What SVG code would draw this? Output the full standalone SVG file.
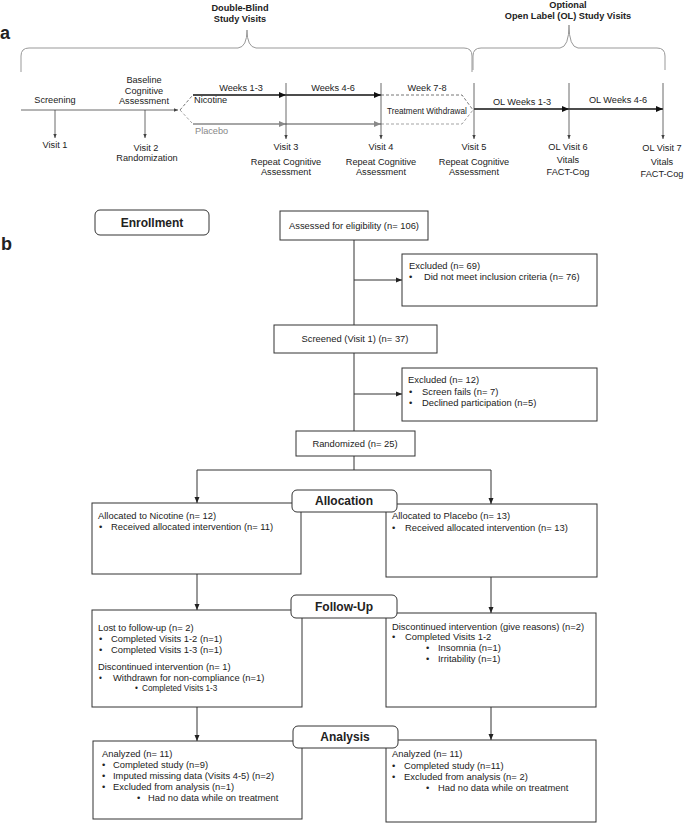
<svg xmlns="http://www.w3.org/2000/svg" width="685" height="824" viewBox="0 0 685 824">
<style>
text{font-family:"Liberation Sans",Arial,sans-serif;fill:#222}
.a{font-size:9.2px;text-anchor:middle}
.s{font-size:9.2px}
.tt{font-size:9.2px;font-weight:bold;text-anchor:middle}
.lbl{font-size:18px;font-weight:bold}
.f{font-size:9.4px}
.fc{font-size:9.4px;text-anchor:middle}
.sm{font-size:8.2px}
.h{font-size:12px;font-weight:bold;text-anchor:middle}
.gray{fill:#888}
.box{fill:#fff;stroke:#333;stroke-width:1}
.rbox{fill:#fff;stroke:#333;stroke-width:1}
.ln{fill:none;stroke:#333;stroke-width:1}
.tick{fill:none;stroke:#444;stroke-width:0.8}
.brace{fill:none;stroke:#999;stroke-width:1}
.nic{fill:none;stroke:#111;stroke-width:1.5}
.pla{fill:none;stroke:#888;stroke-width:1.3}
.dk{fill:none;stroke:#666;stroke-width:0.9;stroke-dasharray:3,2}
.dg{fill:none;stroke:#999;stroke-width:0.9;stroke-dasharray:3,2}
</style>
<defs>
<marker id="ah" markerWidth="6" markerHeight="6" refX="6" refY="3" orient="auto" markerUnits="userSpaceOnUse"><path d="M0,0.5 L6,3 L0,5.5z" fill="#222"/></marker>
<marker id="at" markerWidth="4" markerHeight="4" refX="4" refY="2" orient="auto" markerUnits="userSpaceOnUse"><path d="M0,0.3 L4,2 L0,3.7z" fill="#444"/></marker>
<marker id="an" markerWidth="7" markerHeight="7" refX="7" refY="3.5" orient="auto" markerUnits="userSpaceOnUse"><path d="M0,0.5 L7,3.5 L0,6.5z" fill="#111"/></marker>
<marker id="ag" markerWidth="7" markerHeight="7" refX="7" refY="3.5" orient="auto" markerUnits="userSpaceOnUse"><path d="M0,0.5 L7,3.5 L0,6.5z" fill="#888"/></marker>
</defs>

<!-- Panel a -->
<g id="panel-a">
<text x="0" y="39" class="lbl">a</text>
<text x="240" y="11" class="tt">Double-Blind</text>
<text x="240" y="22" class="tt">Study Visits</text>
<text x="568" y="8" class="tt">Optional</text>
<text x="568" y="19" class="tt">Open Label (OL) Study Visits</text>
<path class="brace" d="M21,72 L21,56 Q21,48 29,48 L238,48 Q247,47 247,30 Q247,47 256,48 L464,48 Q472,48 472,56 L472,72"/>
<path class="brace" d="M473,70 L473,56 Q473,48 481,48 L560,48 Q569,47 569,25 Q569,47 578,48 L657,48 Q665,48 665,56 L665,70"/>
</g>

<g id="timeline">
<line class="tick" x1="21" y1="110" x2="178" y2="110" marker-end="url(#at)"/>
<line class="dk" x1="180" y1="110" x2="192" y2="96"/>
<line class="dg" x1="180" y1="110" x2="192" y2="123"/>
<line class="nic" x1="193" y1="95" x2="286" y2="95" marker-end="url(#an)"/>
<line class="nic" x1="286" y1="95" x2="381" y2="95" marker-end="url(#an)"/>
<line class="pla" x1="193" y1="124" x2="286" y2="124" marker-end="url(#ag)"/>
<line class="pla" x1="286" y1="124" x2="381" y2="124" marker-end="url(#ag)"/>
<path class="dk" d="M381,95 L462,95 L473,110"/>
<path class="dg" d="M381,124 L462,124 L473,110"/>
<line class="nic" x1="474" y1="109" x2="569" y2="109" marker-end="url(#an)"/>
<line class="nic" x1="569" y1="109" x2="663" y2="109" marker-end="url(#an)"/>
<line class="tick" x1="55" y1="110" x2="55" y2="138" marker-end="url(#at)"/>
<line class="tick" x1="145" y1="110" x2="145" y2="138" marker-end="url(#at)"/>
<line class="tick" x1="286" y1="83" x2="286" y2="139" marker-end="url(#at)"/>
<line class="tick" x1="381" y1="83" x2="381" y2="139" marker-end="url(#at)"/>
<line class="tick" x1="474" y1="83" x2="474" y2="139" marker-end="url(#at)"/>
<line class="tick" x1="569" y1="83" x2="569" y2="139" marker-end="url(#at)"/>
<line class="tick" x1="663" y1="83" x2="663" y2="139" marker-end="url(#at)"/>
</g>

<g id="timeline-labels">
<text x="55" y="103" class="a">Screening</text>
<text x="55" y="148" class="a">Visit 1</text>
<text x="144" y="83" class="a">Baseline</text>
<text x="144" y="94" class="a">Cognitive</text>
<text x="144" y="104" class="a">Assessment</text>
<text x="146" y="151" class="a">Visit 2</text>
<text x="147" y="161" class="a">Randomization</text>
<text x="194" y="103" class="s">Nicotine</text>
<text x="195" y="134" class="s gray">Placebo</text>
<text x="241" y="91" class="a">Weeks 1-3</text>
<text x="333" y="91" class="a">Weeks 4-6</text>
<text x="427" y="91" class="a">Week 7-8</text>
<text x="387" y="114" class="sm">Treatment Withdrawal</text>
<text x="286" y="150" class="a">Visit 3</text>
<text x="286" y="165" class="a">Repeat Cognitive</text>
<text x="286" y="175" class="a">Assessment</text>
<text x="381" y="150" class="a">Visit 4</text>
<text x="381" y="165" class="a">Repeat Cognitive</text>
<text x="381" y="175" class="a">Assessment</text>
<text x="474" y="150" class="a">Visit 5</text>
<text x="474" y="165" class="a">Repeat Cognitive</text>
<text x="474" y="175" class="a">Assessment</text>
<text x="522" y="105" class="a">OL Weeks 1-3</text>
<text x="618" y="103" class="a">OL Weeks 4-6</text>
<text x="568" y="150" class="a">OL Visit 6</text>
<text x="568" y="163" class="a">Vitals</text>
<text x="568" y="175" class="a">FACT-Cog</text>
<text x="662" y="151" class="a">OL Visit 7</text>
<text x="662" y="165" class="a">Vitals</text>
<text x="662" y="177" class="a">FACT-Cog</text>
</g>

<!-- Panel b -->
<text x="1" y="250" class="lbl">b</text>

<g id="connectors">
<line class="ln" x1="354" y1="240" x2="354" y2="325"/>
<line class="ln" x1="354" y1="280" x2="402" y2="280" marker-end="url(#ah)"/>
<line class="ln" x1="354" y1="353" x2="354" y2="431"/>
<line class="ln" x1="354" y1="394" x2="402" y2="394" marker-end="url(#ah)"/>
<line class="ln" x1="354" y1="456" x2="354" y2="470"/>
<line class="ln" x1="197" y1="470" x2="491" y2="470"/>
<line class="ln" x1="197" y1="470" x2="197" y2="503" marker-end="url(#ah)"/>
<line class="ln" x1="491" y1="470" x2="491" y2="504" marker-end="url(#ah)"/>
<line class="ln" x1="197" y1="574" x2="197" y2="610" marker-end="url(#ah)"/>
<line class="ln" x1="491" y1="577" x2="491" y2="613" marker-end="url(#ah)"/>
<line class="ln" x1="197" y1="707" x2="197" y2="741" marker-end="url(#ah)"/>
<line class="ln" x1="491" y1="707" x2="491" y2="740" marker-end="url(#ah)"/>
</g>

<g id="enrollment">
<rect class="rbox" x="95" y="210" width="114" height="25" rx="5"/>
<text x="152" y="227" class="h">Enrollment</text>
</g>
<g id="assessed">
<rect class="box" x="280" y="211" width="148" height="29"/>
<text x="354" y="229" class="fc">Assessed for eligibility (n= 106)</text>
</g>
<g id="excluded1">
<rect class="box" x="402" y="254" width="195" height="52"/>
<text x="409" y="269" class="f">Excluded (n= 69)</text>
<text x="409" y="280" class="f">•</text>
<text x="424" y="280" class="f">Did not meet inclusion criteria (n= 76)</text>
</g>
<g id="screened">
<rect class="box" x="274" y="325" width="163" height="28"/>
<text x="355" y="342" class="fc">Screened (Visit 1) (n= 37)</text>
</g>
<g id="excluded2">
<rect class="box" x="402" y="368" width="195" height="53"/>
<text x="408" y="383" class="f">Excluded (n= 12)</text>
<text x="409" y="395" class="f">•</text>
<text x="422" y="395" class="f">Screen fails (n= 7)</text>
<text x="409" y="406" class="f">•</text>
<text x="422" y="406" class="f">Declined participation (n=5)</text>
</g>
<g id="randomized">
<rect class="box" x="296" y="431" width="119" height="25"/>
<text x="355" y="447" class="fc">Randomized (n= 25)</text>
</g>

<g id="alloc-nicotine">
<rect class="box" x="92" y="503" width="209" height="71"/>
<text x="98" y="519" class="f">Allocated to Nicotine (n= 12)</text>
<text x="99" y="530" class="f">•</text>
<text x="111" y="530" class="f">Received allocated intervention (n= 11)</text>
</g>
<g id="alloc-placebo">
<rect class="box" x="386" y="504" width="211" height="73"/>
<text x="392" y="519" class="f">Allocated to Placebo (n= 13)</text>
<text x="392" y="531" class="f">•</text>
<text x="405" y="531" class="f">Received allocated intervention (n= 13)</text>
</g>
<g id="allocation">
<rect class="rbox" x="292" y="490" width="105" height="22" rx="5"/>
<text x="344" y="505" class="h">Allocation</text>
</g>

<g id="followup-nicotine">
<rect class="box" x="92" y="610" width="210" height="97"/>
<text x="98" y="631" class="f">Lost to follow-up (n= 2)</text>
<text x="99" y="642" class="f">•</text>
<text x="111" y="642" class="f">Completed Visits 1-2 (n=1)</text>
<text x="99" y="653" class="f">•</text>
<text x="111" y="653" class="f">Completed Visits 1-3 (n=1)</text>
<text x="98" y="670" class="f">Discontinued intervention (n= 1)</text>
<text x="99" y="681" class="sm">•</text>
<text x="113" y="681" class="f">Withdrawn for non-compliance (n=1)</text>
<text x="135" y="691" class="sm">•</text>
<text x="142" y="691" class="sm">Completed Visits 1-3</text>
</g>
<g id="followup-placebo">
<rect class="box" x="386" y="613" width="210" height="94"/>
<text x="392" y="630" class="f">Discontinued intervention (give reasons) (n=2)</text>
<text x="392" y="640" class="f">•</text>
<text x="405" y="640" class="f">Completed Visits 1-2</text>
<text x="426" y="651" class="f">•</text>
<text x="438" y="651" class="f">Insomnia (n=1)</text>
<text x="426" y="662" class="f">•</text>
<text x="438" y="662" class="f">Irritability (n=1)</text>
</g>
<g id="followup">
<rect class="rbox" x="291" y="595" width="106" height="23" rx="5"/>
<text x="344" y="611" class="h">Follow-Up</text>
</g>

<g id="analysis-nicotine">
<rect class="box" x="93" y="741" width="209" height="78"/>
<text x="102" y="757" class="f">Analyzed (n= 11)</text>
<text x="102" y="768" class="f">•</text>
<text x="113" y="768" class="f">Completed study (n=9)</text>
<text x="102" y="779" class="f">•</text>
<text x="113" y="779" class="f">Imputed missing data (Visits 4-5) (n=2)</text>
<text x="102" y="790" class="f">•</text>
<text x="113" y="790" class="f">Excluded from analysis (n=1)</text>
<text x="137" y="801" class="f">•</text>
<text x="148" y="801" class="f">Had no data while on treatment</text>
</g>
<g id="analysis-placebo">
<rect class="box" x="386" y="740" width="210" height="82"/>
<text x="392" y="757" class="f">Analyzed (n= 11)</text>
<text x="392" y="769" class="f">•</text>
<text x="404" y="769" class="f">Completed study (n=11)</text>
<text x="392" y="780" class="f">•</text>
<text x="404" y="780" class="f">Excluded from analysis (n= 2)</text>
<text x="426" y="791" class="f">•</text>
<text x="438" y="791" class="f">Had no data while on treatment</text>
</g>
<g id="analysis">
<rect class="rbox" x="293" y="726" width="105" height="22" rx="5"/>
<text x="345" y="741" class="h">Analysis</text>
</g>
</svg>
